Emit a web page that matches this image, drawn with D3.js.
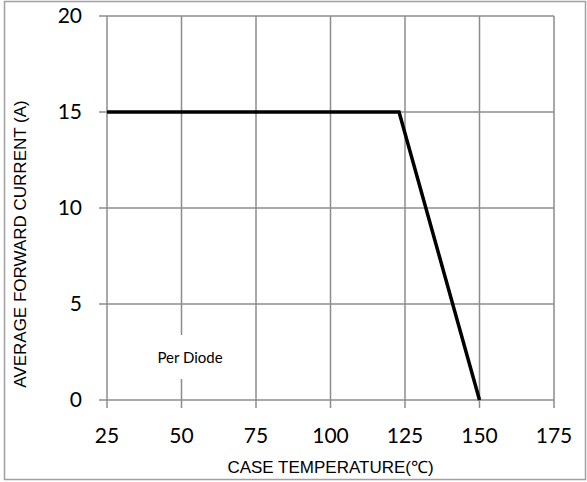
<!DOCTYPE html>
<html>
<head>
<meta charset="utf-8">
<script src="https://cdn.jsdelivr.net/npm/d3@7"></script>
<style>
  html, body { margin: 0; padding: 0; background: #fff; }
</style>
</head>
<body>
<div id="chart"></div>
<script>
// derating curve
var temps = [25, 123, 150];
var currents = [15, 15, 0];
var xTicks = [25, 50, 75, 100, 125, 150, 175];
var yTicks = [0, 5, 10, 15, 20];

var W = 587, H = 482;
var mLeft = 107, mRight = 554, mTop = 16, mBottom = 400;

var svg = d3.select("#chart").append("svg")
  .attr("width", W)
  .attr("height", H);

// outer frame
svg.append("rect")
  .attr("x", 4.5)
  .attr("y", 1.5)
  .attr("width", 581)
  .attr("height", 478)
  .attr("fill", "none")
  .attr("stroke", "#a0a0a0")
  .attr("stroke-width", 1.5);

var x = d3.scaleLinear().domain([25, 175]).range([mLeft, mRight]);
var y = d3.scaleLinear().domain([0, 20]).range([mBottom, mTop]);

// grid
svg.append("g").selectAll("line").data(xTicks).enter().append("line")
  .attr("x1", function(d) { return x(d); })
  .attr("x2", function(d) { return x(d); })
  .attr("y1", mTop)
  .attr("y2", mBottom + 8)
  .attr("stroke", "#8c8c8c")
  .attr("stroke-width", 1.5);

svg.append("g").selectAll("line").data(yTicks).enter().append("line")
  .attr("x1", mLeft - 8)
  .attr("x2", mRight)
  .attr("y1", function(d) { return y(d); })
  .attr("y2", function(d) { return y(d); })
  .attr("stroke", "#8c8c8c")
  .attr("stroke-width", 1.5);

// tick labels
svg.append("g").selectAll("text").data(yTicks).enter().append("text")
  .attr("x", 82)
  .attr("y", function(d) { return y(d); })
  .attr("dy", "0.35em")
  .attr("text-anchor", "end")
  .attr("font-family", "Lato, 'Noto Sans', sans-serif")
  .attr("font-size", 21)
  .attr("fill", "#000")
  .text(function(d) { return d; });

svg.append("g").selectAll("text").data(xTicks).enter().append("text")
  .attr("x", function(d) { return x(d); })
  .attr("y", 443)
  .attr("text-anchor", "middle")
  .attr("font-family", "Lato, 'Noto Sans', sans-serif")
  .attr("font-size", 21)
  .attr("fill", "#000")
  .text(function(d) { return d; });

// axis titles
svg.append("text")
  .attr("x", (mLeft + mRight) / 2)
  .attr("y", 473)
  .attr("text-anchor", "middle")
  .attr("font-family", "'Liberation Sans', Arial, sans-serif")
  .attr("font-size", 17)
  .attr("fill", "#000")
  .text("CASE TEMPERATURE(\u2103)");

svg.append("text")
  .attr("transform", "translate(26," + 244 + ") rotate(-90)")
  .attr("text-anchor", "middle")
  .attr("font-family", "'Liberation Sans', Arial, sans-serif")
  .attr("font-size", 17)
  .attr("fill", "#000")
  .text("AVERAGE FORWARD CURRENT (A)");

// note in a white box that hides the grid behind it
svg.append("rect")
  .attr("x", 135)
  .attr("y", 335)
  .attr("width", 110)
  .attr("height", 44)
  .attr("fill", "#fff");

svg.append("text")
  .attr("x", 190)
  .attr("y", 363)
  .attr("text-anchor", "middle")
  .attr("font-family", "Lato, 'Noto Sans', sans-serif")
  .attr("font-size", 15)
  .attr("fill", "#000")
  .text("Per Diode");

// curve
var line = d3.line()
  .x(function(d, i) { return x(temps[i]); })
  .y(function(d, i) { return y(currents[i]); });

svg.append("path")
  .datum(temps)
  .attr("d", line)
  .attr("fill", "none")
  .attr("stroke", "#000")
  .attr("stroke-width", 3.5);
</script>
</body>
</html>
